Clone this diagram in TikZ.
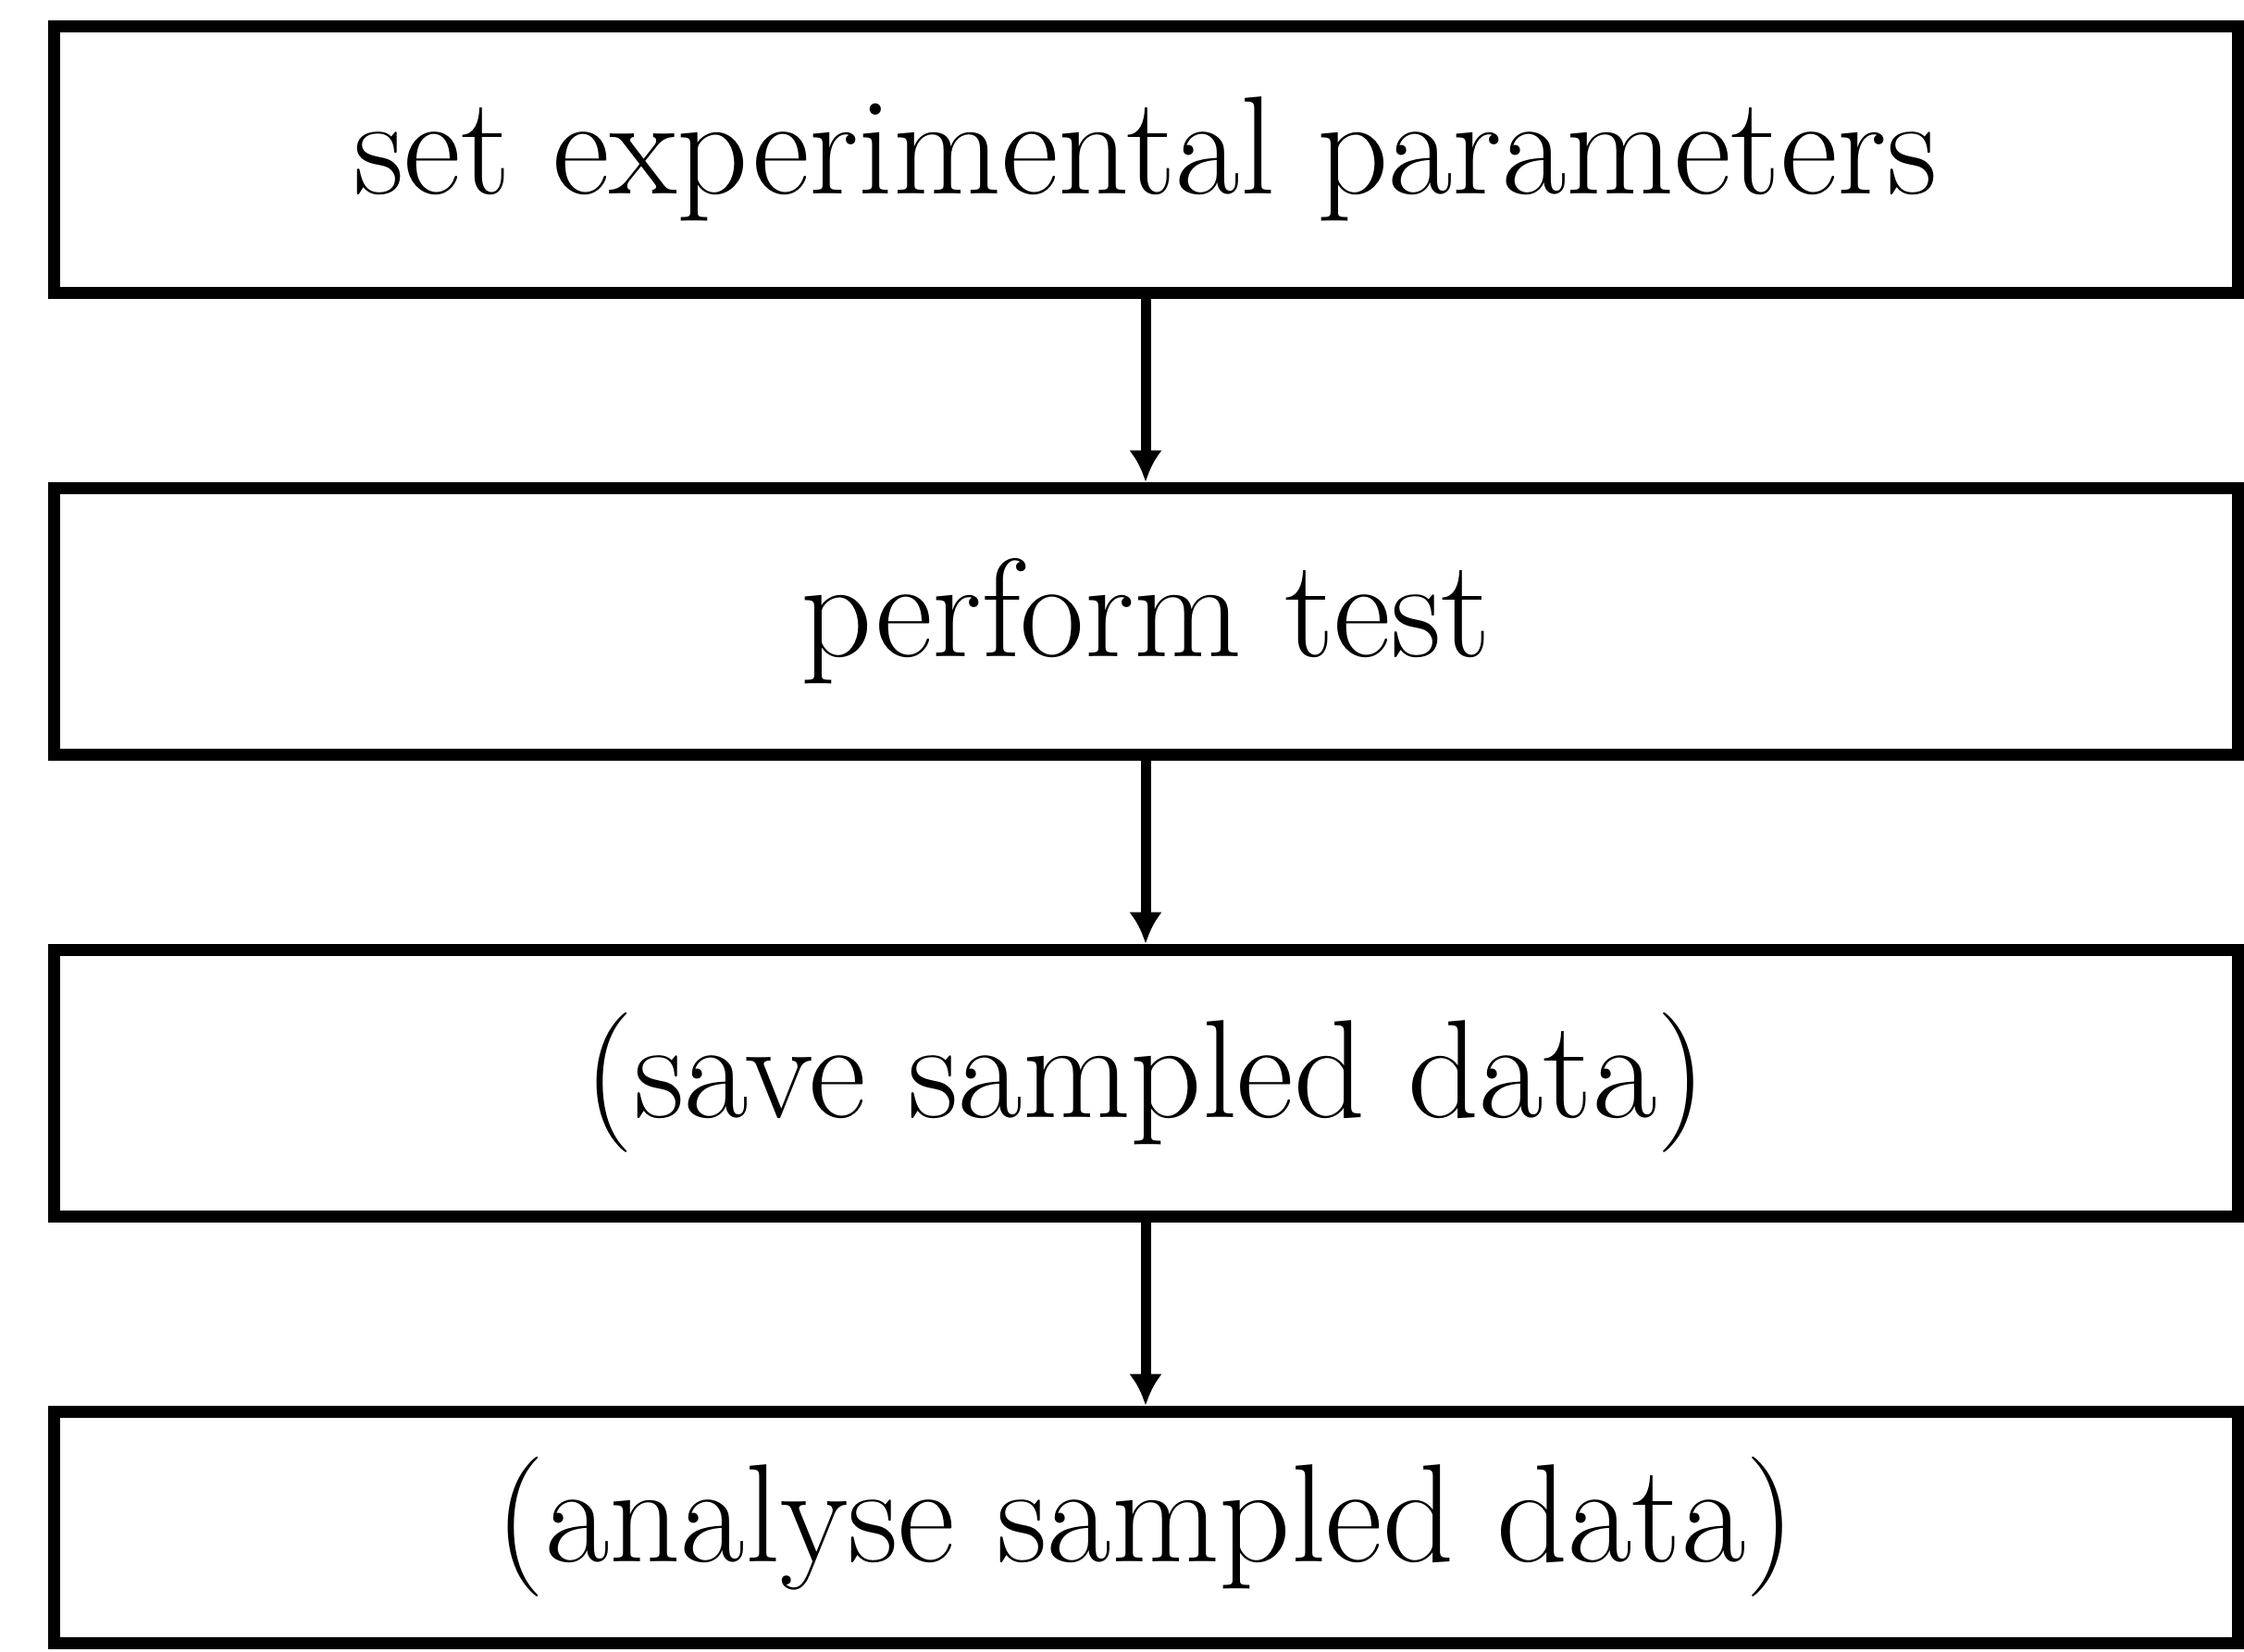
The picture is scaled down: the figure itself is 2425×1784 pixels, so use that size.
\documentclass[tikz,border=0pt]{standalone}
\usepackage{tikz}
\usetikzlibrary{arrows.meta,positioning}
\tikzset{
  stepbox/.style = {draw,line width=1.3mm,minimum width=236mm,minimum height=28.8mm,
                    inner sep=0pt,font=\fontsize{43}{50}\selectfont},
  arrow/.style   = {-{Latex[length=3.4mm,width=3.6mm]},line width=1.1mm},
}
\begin{document}
\begin{tikzpicture}[x=0.1mm,y=-0.1mm,node distance=19.8mm]
  \useasboundingbox (0,0) rectangle (2425,1784);
  % the four steps
  \node[stepbox] (setpar) at (1238,172) {set experimental parameters};
  \node[stepbox,below=of setpar] (perform) {perform test};
  \node[stepbox,below=of perform] (save) {(save sampled data)};
  \node[stepbox,below=of save,minimum height=25mm] (analyse) {(analyse sampled data)};
  % flow
  \draw[arrow] (setpar) -- (perform);
  \draw[arrow] (perform) -- (save);
  \draw[arrow] (save) -- (analyse);
\end{tikzpicture}
\end{document}
